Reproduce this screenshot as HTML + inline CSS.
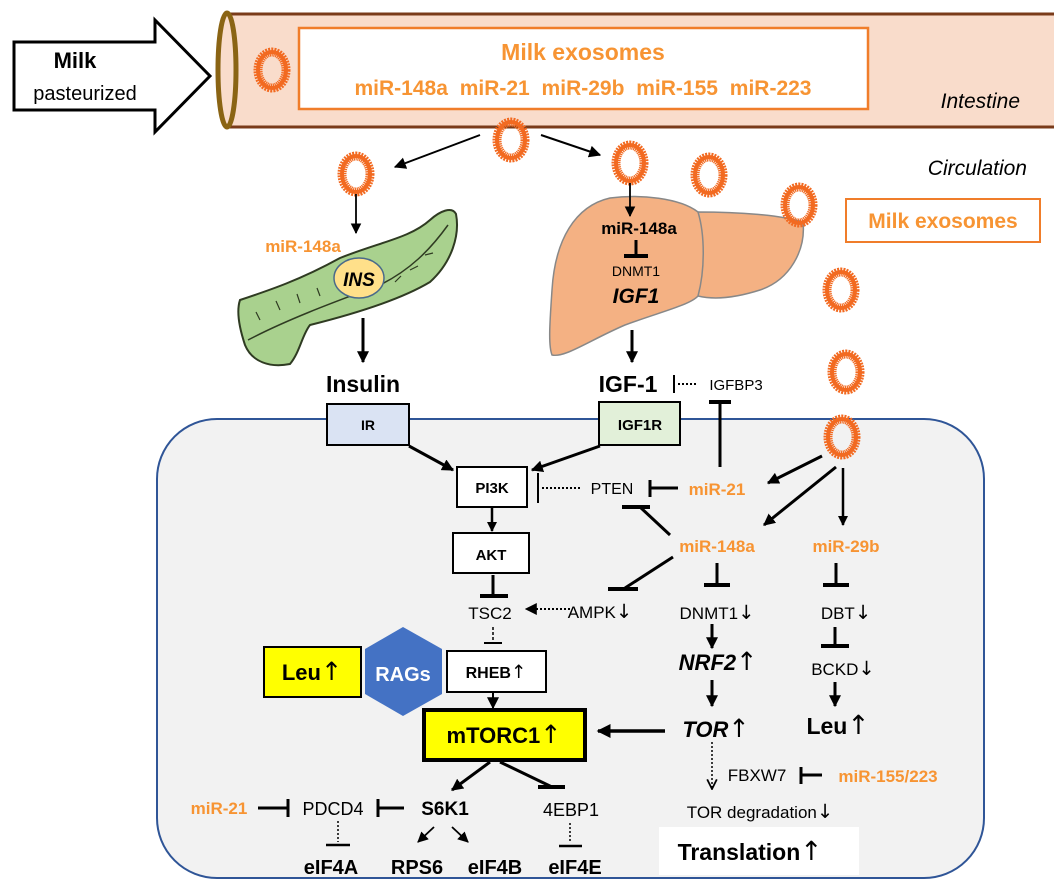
<!DOCTYPE html>
<html><head><meta charset="utf-8"><style>
html,body{margin:0;padding:0;background:#fff;}
svg{display:block;font-family:"Liberation Sans",Arial,sans-serif;}
.o{fill:#f79433;font-weight:bold;}
.b{font-weight:bold;}
.u{font-family:"DejaVu Sans",sans-serif;font-weight:normal;font-style:normal;font-size:1.15em;}
</style></head><body>
<svg width="1054" height="893" viewBox="0 0 1054 893" xmlns="http://www.w3.org/2000/svg">
<defs>
<marker id="a" viewBox="0 0 10 10" refX="9" refY="5" markerWidth="4" markerHeight="4" orient="auto-start-reverse" markerUnits="strokeWidth"><path d="M0,0 L10,5 L0,10 z" fill="#000"/></marker>
<marker id="as" viewBox="0 0 10 10" refX="9" refY="5" markerWidth="6" markerHeight="6" orient="auto" markerUnits="strokeWidth"><path d="M0,0 L10,5 L0,10 z" fill="#000"/></marker>
<marker id="ao" viewBox="0 0 10 10" refX="9" refY="5" markerWidth="8" markerHeight="8" orient="auto" markerUnits="strokeWidth"><path d="M1,1 L9,5 L1,9" fill="none" stroke="#000" stroke-width="1.5"/></marker>
<g id="ex"><ellipse cx="0" cy="0" rx="14" ry="18" fill="none" stroke="#f26a21" stroke-width="9" stroke-dasharray="1.6 0.9"/><ellipse cx="0" cy="0" rx="14" ry="18" fill="none" stroke="#f26a21" stroke-width="4"/></g>
</defs>

<!-- intestine -->
<rect x="226" y="13" width="830" height="115" fill="#f9dccb"/>
<line x1="226" y1="14" x2="1054" y2="14" stroke="#7a3b1a" stroke-width="3"/>
<line x1="226" y1="127" x2="1054" y2="127" stroke="#7a3b1a" stroke-width="3"/>
<ellipse cx="227" cy="70" rx="9" ry="57" fill="#f9dccb" stroke="#8a6414" stroke-width="5"/>
<path d="M14,42 L155,42 L155,20 L210,76 L155,132 L155,110 L14,110 Z" fill="#fff" stroke="#000" stroke-width="3"/>
<text x="75" y="68" font-size="22" class="b" text-anchor="middle">Milk</text>
<text x="85" y="100" font-size="20" text-anchor="middle">pasteurized</text>
<use href="#ex" x="272" y="70"/>
<rect x="299" y="28" width="569" height="81" fill="#fff" stroke="#f07d2a" stroke-width="2.5"/>
<text x="583" y="60" font-size="23" class="o" text-anchor="middle">Milk exosomes</text>
<text x="583" y="95" font-size="21" class="o" text-anchor="middle" word-spacing="6">miR-148a  miR-21  miR-29b  miR-155  miR-223</text>
<text x="1020" y="108" font-size="21" font-style="italic" text-anchor="end">Intestine</text>

<!-- liver -->
<path d="M698,212 C740,212 780,215 803,222 C806,250 790,280 760,290 C735,298 715,300 698,296 Z" fill="#f4b183" stroke="#888" stroke-width="1.5"/>
<path d="M698,212 C680,198 640,194 610,198 C575,206 555,240 552,290 C550,320 548,345 552,355 C565,358 590,340 625,325 C660,312 690,305 698,296 C705,270 705,235 698,212 Z" fill="#f4b183" stroke="#888" stroke-width="1.5"/>

<!-- circulation -->
<use href="#ex" x="511" y="140"/>
<use href="#ex" x="356" y="174"/>
<use href="#ex" x="630" y="163"/>
<use href="#ex" x="709" y="175"/>
<use href="#ex" x="799" y="205"/>
<use href="#ex" x="841" y="290"/>
<use href="#ex" x="846" y="372"/>
<text x="1027" y="175" font-size="21" font-style="italic" text-anchor="end">Circulation</text>
<rect x="846" y="199" width="194" height="43" fill="#fff" stroke="#f07d2a" stroke-width="2"/>
<text x="943" y="228" font-size="21" class="o" text-anchor="middle">Milk exosomes</text>
<line x1="480" y1="135" x2="395" y2="167" stroke="#000" stroke-width="2" marker-end="url(#as)"/>
<line x1="541" y1="135" x2="600" y2="155" stroke="#000" stroke-width="2" marker-end="url(#as)"/>
<line x1="356" y1="194" x2="356" y2="233" stroke="#000" stroke-width="1.8" marker-end="url(#as)"/>
<line x1="630" y1="183" x2="630" y2="216" stroke="#000" stroke-width="1.8" marker-end="url(#as)"/>

<!-- pancreas -->
<path d="M240,300 C270,290 300,280 340,258 C380,242 410,238 430,220 C440,211 452,206 456,214 C460,235 452,262 430,282 C400,300 350,315 310,325 C302,335 300,352 290,364 C270,368 252,362 245,345 C240,330 236,312 240,300 Z" fill="#a9d18e" stroke="#2f3b22" stroke-width="2"/>
<path d="M248,340 C290,318 340,300 380,285 C410,270 430,250 448,225" fill="none" stroke="#2f3b22" stroke-width="1.5"/>
<path d="M260,320 l-4,-8 M280,310 l-4,-9 M300,303 l-3,-9 M320,296 l-3,-8 M395,282 l6,-6 M410,270 l8,-4 M425,255 l8,-2" stroke="#2f3b22" stroke-width="1.2"/>
<ellipse cx="359" cy="278" rx="25" ry="20" fill="#ffe08a" stroke="#4a6a8a" stroke-width="1.5"/>
<text x="359" y="286" font-size="19" class="b" font-style="italic" text-anchor="middle">INS</text>
<text x="303" y="252" font-size="17" class="o" text-anchor="middle">miR-148a</text>
<line x1="363" y1="318" x2="363" y2="362" stroke="#000" stroke-width="3" marker-end="url(#a)"/>
<text x="363" y="392" font-size="23" class="b" text-anchor="middle">Insulin</text>

<text x="639" y="234" font-size="17" class="b" text-anchor="middle">miR-148a</text>
<line x1="636" y1="240" x2="636" y2="256" stroke="#000" stroke-width="3"/>
<line x1="624" y1="256" x2="648" y2="256" stroke="#000" stroke-width="4"/>
<text x="636" y="276" font-size="14" text-anchor="middle">DNMT1</text>
<text x="636" y="303" font-size="21" class="b" font-style="italic" text-anchor="middle">IGF1</text>
<line x1="632" y1="330" x2="632" y2="362" stroke="#000" stroke-width="3" marker-end="url(#a)"/>
<text x="628" y="392" font-size="23" class="b" text-anchor="middle">IGF-1</text>
<line x1="674" y1="375" x2="674" y2="393" stroke="#000" stroke-width="2"/>
<line x1="678" y1="384" x2="698" y2="384" stroke="#000" stroke-width="2" stroke-dasharray="2 2"/>
<text x="736" y="390" font-size="15" text-anchor="middle">IGFBP3</text>

<!-- cell -->
<rect x="157" y="419" width="827" height="459" rx="60" fill="#f2f2f2" stroke="#2f5597" stroke-width="2"/>
<rect x="327" y="404" width="82" height="41" fill="#dae3f3" stroke="#000" stroke-width="2"/>
<text x="368" y="430" font-size="14" class="b" text-anchor="middle">IR</text>
<rect x="599" y="402" width="81" height="43" fill="#e2f0d9" stroke="#000" stroke-width="2"/>
<text x="640" y="430" font-size="15" class="b" text-anchor="middle">IGF1R</text>
<line x1="409" y1="446" x2="453" y2="470" stroke="#000" stroke-width="3" marker-end="url(#a)"/>
<line x1="600" y1="446" x2="532" y2="470" stroke="#000" stroke-width="3" marker-end="url(#a)"/>
<rect x="457" y="467" width="70" height="40" fill="#fff" stroke="#000" stroke-width="2"/>
<text x="492" y="493" font-size="15" class="b" text-anchor="middle">PI3K</text>
<line x1="492" y1="507" x2="492" y2="531" stroke="#000" stroke-width="2.5" marker-end="url(#a)"/>
<rect x="453" y="533" width="76" height="40" fill="#fff" stroke="#000" stroke-width="2"/>
<text x="491" y="560" font-size="15" class="b" text-anchor="middle">AKT</text>
<line x1="538" y1="473" x2="538" y2="503" stroke="#000" stroke-width="2"/>
<line x1="542" y1="488" x2="580" y2="488" stroke="#000" stroke-width="2" stroke-dasharray="2 2"/>
<text x="612" y="494" font-size="16" text-anchor="middle">PTEN</text>
<line x1="650" y1="480" x2="650" y2="497" stroke="#000" stroke-width="3"/>
<line x1="650" y1="488" x2="678" y2="488" stroke="#000" stroke-width="3"/>
<text x="717" y="495" font-size="17" class="o" text-anchor="middle">miR-21</text>
<line x1="720" y1="467" x2="720" y2="402" stroke="#000" stroke-width="3"/>
<line x1="709" y1="402" x2="731" y2="402" stroke="#000" stroke-width="4"/>
<use href="#ex" x="842" y="437"/>
<line x1="822" y1="456" x2="768" y2="483" stroke="#000" stroke-width="3" marker-end="url(#a)"/>
<line x1="836" y1="467" x2="764" y2="525" stroke="#000" stroke-width="3" marker-end="url(#a)"/>
<line x1="843" y1="468" x2="843" y2="525" stroke="#000" stroke-width="2.5" marker-end="url(#a)"/>
<text x="717" y="552" font-size="17" class="o" text-anchor="middle">miR-148a</text>
<text x="846" y="552" font-size="17" class="o" text-anchor="middle">miR-29b</text>
<line x1="670" y1="535" x2="640" y2="507" stroke="#000" stroke-width="3"/>
<line x1="622" y1="507" x2="650" y2="507" stroke="#000" stroke-width="4"/>
<line x1="673" y1="557" x2="625" y2="588" stroke="#000" stroke-width="3"/>
<line x1="608" y1="589" x2="638" y2="589" stroke="#000" stroke-width="4"/>
<line x1="717" y1="563" x2="717" y2="585" stroke="#000" stroke-width="3"/>
<line x1="704" y1="585" x2="730" y2="585" stroke="#000" stroke-width="4"/>
<line x1="836" y1="563" x2="836" y2="585" stroke="#000" stroke-width="3"/>
<line x1="823" y1="585" x2="849" y2="585" stroke="#000" stroke-width="4"/>
<line x1="493" y1="575" x2="493" y2="596" stroke="#000" stroke-width="3"/>
<line x1="480" y1="596" x2="508" y2="596" stroke="#000" stroke-width="4"/>
<text x="490" y="619" font-size="17" text-anchor="middle">TSC2</text>
<line x1="570" y1="609" x2="526" y2="609" stroke="#000" stroke-width="2" stroke-dasharray="2 2" marker-end="url(#as)"/>
<text x="600" y="618" font-size="17" text-anchor="middle">AMPK<tspan class="u">↓</tspan></text>
<text x="717" y="619" font-size="17" text-anchor="middle">DNMT1<tspan class="u">↓</tspan></text>
<text x="846" y="619" font-size="17" text-anchor="middle">DBT<tspan class="u">↓</tspan></text>
<line x1="493" y1="627" x2="493" y2="642" stroke="#000" stroke-width="1.5" stroke-dasharray="3 2"/>
<line x1="484" y1="643" x2="502" y2="643" stroke="#000" stroke-width="2"/>
<rect x="264" y="647" width="97" height="50" fill="#ffff00" stroke="#000" stroke-width="2"/>
<text x="312" y="680" font-size="22" class="b" text-anchor="middle">Leu<tspan class="u">↑</tspan></text>
<polygon points="403,627 442,649 442,694 403,716 365,694 365,649" fill="#4472c4"/>
<text x="403" y="681" font-size="20" class="b" fill="#fff" text-anchor="middle">RAGs</text>
<rect x="447" y="651" width="99" height="41" fill="#fff" stroke="#000" stroke-width="2"/>
<text x="496" y="678" font-size="16" class="b" text-anchor="middle">RHEB<tspan class="u">↑</tspan></text>
<line x1="493" y1="692" x2="493" y2="708" stroke="#000" stroke-width="2" marker-end="url(#as)"/>
<line x1="835" y1="627" x2="835" y2="645" stroke="#000" stroke-width="3"/>
<line x1="821" y1="646" x2="849" y2="646" stroke="#000" stroke-width="4"/>
<text x="843" y="675" font-size="17" text-anchor="middle">BCKD<tspan class="u">↓</tspan></text>
<line x1="835" y1="682" x2="835" y2="706" stroke="#000" stroke-width="3" marker-end="url(#a)"/>
<text x="838" y="734" font-size="23" class="b" text-anchor="middle">Leu<tspan class="u">↑</tspan></text>
<line x1="712" y1="624" x2="712" y2="648" stroke="#000" stroke-width="3" marker-end="url(#a)"/>
<text x="718" y="670" font-size="22" class="b" font-style="italic" text-anchor="middle">NRF2<tspan class="u">↑</tspan></text>
<line x1="712" y1="680" x2="712" y2="706" stroke="#000" stroke-width="3" marker-end="url(#a)"/>
<text x="716" y="737" font-size="22" class="b" font-style="italic" text-anchor="middle">TOR<tspan class="u">↑</tspan></text>
<line x1="665" y1="731" x2="598" y2="731" stroke="#000" stroke-width="3.5" marker-end="url(#a)"/>
<rect x="424" y="710" width="161" height="50" fill="#ffff00" stroke="#000" stroke-width="4"/>
<text x="504" y="743" font-size="22" class="b" text-anchor="middle">mTORC1<tspan class="u">↑</tspan></text>
<line x1="490" y1="762" x2="452" y2="790" stroke="#000" stroke-width="3" marker-end="url(#a)"/>
<line x1="500" y1="762" x2="552" y2="787" stroke="#000" stroke-width="3"/>
<line x1="538" y1="787" x2="565" y2="787" stroke="#000" stroke-width="4"/>
<text x="445" y="815" font-size="19" class="b" text-anchor="middle">S6K1</text>
<text x="333" y="815" font-size="18" text-anchor="middle">PDCD4</text>
<text x="219" y="814" font-size="17" class="o" text-anchor="middle">miR-21</text>
<line x1="258" y1="808" x2="287" y2="808" stroke="#000" stroke-width="3"/>
<line x1="288" y1="799" x2="288" y2="817" stroke="#000" stroke-width="3"/>
<line x1="378" y1="808" x2="404" y2="808" stroke="#000" stroke-width="3"/>
<line x1="378" y1="799" x2="378" y2="817" stroke="#000" stroke-width="3"/>
<text x="571" y="816" font-size="18" text-anchor="middle">4EBP1</text>
<line x1="338" y1="821" x2="338" y2="842" stroke="#000" stroke-width="1.5" stroke-dasharray="2 2"/>
<line x1="326" y1="845" x2="350" y2="845" stroke="#000" stroke-width="2.5"/>
<line x1="570" y1="823" x2="570" y2="843" stroke="#000" stroke-width="1.5" stroke-dasharray="2 2"/>
<line x1="559" y1="846" x2="582" y2="846" stroke="#000" stroke-width="2.5"/>
<line x1="434" y1="827" x2="418" y2="842" stroke="#000" stroke-width="1.8" marker-end="url(#as)"/>
<line x1="452" y1="827" x2="468" y2="842" stroke="#000" stroke-width="1.8" marker-end="url(#as)"/>
<text x="331" y="874" font-size="20" class="b" text-anchor="middle">eIF4A</text>
<text x="417" y="874" font-size="20" class="b" text-anchor="middle">RPS6</text>
<text x="495" y="874" font-size="20" class="b" text-anchor="middle">eIF4B</text>
<text x="575" y="874" font-size="20" class="b" text-anchor="middle">eIF4E</text>
<line x1="712" y1="742" x2="712" y2="789" stroke="#000" stroke-width="1.5" stroke-dasharray="2 2" marker-end="url(#ao)"/>
<text x="757" y="781" font-size="17" text-anchor="middle">FBXW7</text>
<line x1="801" y1="767" x2="801" y2="784" stroke="#000" stroke-width="3"/>
<line x1="801" y1="775" x2="822" y2="775" stroke="#000" stroke-width="3"/>
<text x="888" y="782" font-size="17" class="o" text-anchor="middle">miR-155/223</text>
<text x="760" y="818" font-size="17" text-anchor="middle">TOR degradation<tspan class="u">↓</tspan></text>
<rect x="659" y="827" width="200" height="48" fill="#fff"/>
<text x="750" y="860" font-size="23" class="b" text-anchor="middle">Translation<tspan class="u">↑</tspan></text>
</svg>
</body></html>
